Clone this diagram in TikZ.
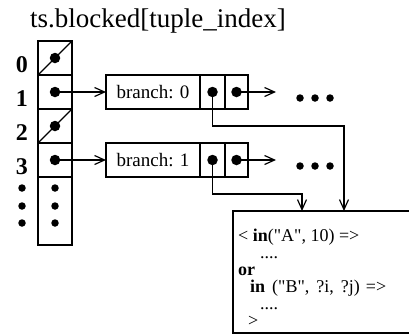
\documentclass[tikz,border=0pt]{standalone}
\usepackage{fontspec}
\setmainfont{Liberation Serif}
\usetikzlibrary{arrows.meta, calc, positioning}

\tikzset{
    cell/.style={draw, line width=1.2pt, minimum width=34pt, minimum height=34pt, inner sep=0pt, outer sep=0pt},
    ptr/.style={fill, circle, inner sep=0pt, minimum size=10.5pt},
    pt/.style={fill, circle, inner sep=0pt, minimum size=7.5pt},
    link/.style={line width=1.2pt, -{Straight Barb[length=10pt, width=9pt, line width=1.2pt]}},
    idx/.style={font=\fontsize{24}{28}\selectfont\bfseries, anchor=base},
}

\newcommand{\qt}{\textquotedbl}

\begin{document}
\begin{tikzpicture}[x=1pt, y=-1pt]
    \useasboundingbox (0, 0) rectangle (409, 335);
    \clip (0, 0) rectangle (409, 335);

    \node[anchor=base west, inner sep=0pt, font=\fontsize{27}{31}\selectfont] (title) at (30, 27) {ts.blocked[tuple\_index]};

    % blocked array
    \node[cell] (c0) at (55, 58) {};
    \node[cell] (c1) at (55, 92) {};
    \node[cell] (c2) at (55, 126) {};
    \node[cell] (c3) at (55, 160) {};
    \node[cell, minimum height=68pt] (c4) at (55, 211) {};

    \draw[line width=1.2pt] (c0.south west) -- (c0.north east);
    \draw[line width=1.2pt] (c2.south west) -- (c2.north east);

    \foreach \i in {0, 1, 2, 3}
        \node[ptr] (d\i) at (c\i) {};

    \node[idx] (i0) at (22, 72) {0};
    \node[idx] (i1) at (22, 106) {1};
    \node[idx] (i2) at (22, 140) {2};
    \node[idx] (i3) at (22, 174) {3};

    \foreach \y in {188, 206, 223} {
        \node[pt] (l\y) at (22, \y) {};
        \node[pt] (r\y) at (55, \y) {};
    }

    % branch records
    \node[cell, minimum width=94pt, font=\fontsize{19}{22}\selectfont] (b1) at (153, 92) {branch: 0};
    \node[cell, minimum width=25pt, right=0pt of b1] (p1) {};
    \node[cell, minimum width=23pt, right=0pt of p1] (q1) {};

    \node[cell, minimum width=94pt, font=\fontsize{19}{22}\selectfont] (b2) at (153, 160) {branch: 1};
    \node[cell, minimum width=25pt, right=0pt of b2] (p2) {};
    \node[cell, minimum width=23pt, right=0pt of p2] (q2) {};

    \foreach \n in {p1, q1, p2, q2}
        \node[ptr] (\n d) at (\n) {};

    \coordinate (e1) at (276, 92);
    \coordinate (e2) at (276, 160);
    \foreach \x in {300, 315, 330} {
        \node[pt] (h\x) at (\x, 98) {};
        \node[pt] (k\x) at (\x, 166) {};
    }

    % pending request (runs off the right edge)
    \draw[line width=1.2pt] (420, 211) -- (233, 211) -- (233, 333) -- (420, 333);
    \node[anchor=north west, inner sep=0pt, align=left, font=\fontsize{18}{17}\selectfont] (body) at (238, 229) {%
        < \textbf{in}(\qt A\qt, 10) =>\\
        \hspace*{22pt}....\\
        \textbf{or}\\
        \hspace*{12pt}\textbf{in}\hspace{7pt}(\qt B\qt,\hspace{7pt}?i,\hspace{7pt}?j)\hspace{6pt}=>\\
        \hspace*{22pt}....\\
        \hspace*{10pt}>};

    \coordinate (t1) at (344, 211);
    \coordinate (t2) at (302, 211);

    \draw[link] (d1.center) -- (b1);
    \draw[link] (d3.center) -- (b2);
    \draw[link] (q1d.center) -- (e1);
    \draw[link] (q2d.center) -- (e2);
    \draw[link] (p1d.center) -- ++(0, 34) -| (t1);
    \draw[link] (p2d.center) -- ++(0, 34) -| (t2);
\end{tikzpicture}
\end{document}
